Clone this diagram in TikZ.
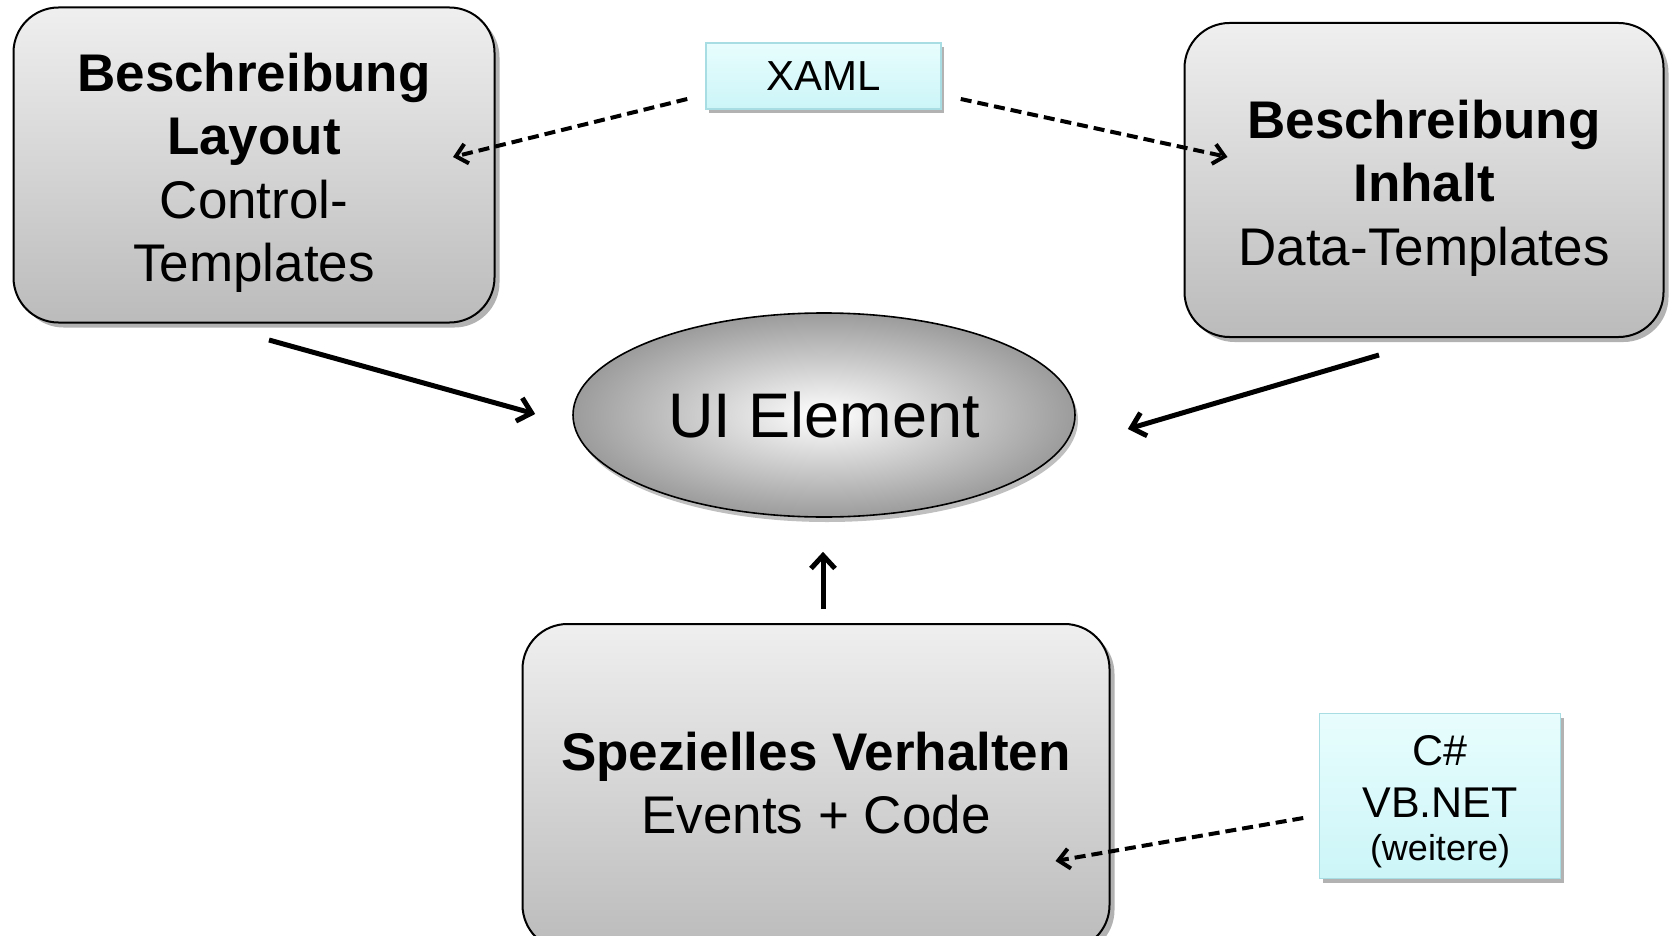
\documentclass[tikz,border=0pt]{standalone}
\usepackage{fontspec}
\setmainfont{Liberation Sans}
\usetikzlibrary{arrows.meta,shadows,calc,shapes.geometric}
\definecolor{boxtop}{HTML}{EFEFEF}
\definecolor{boxbot}{HTML}{BBBBBB}
\definecolor{cytop}{HTML}{E8FDFD}
\definecolor{cybot}{HTML}{CCF5F8}
\definecolor{cyborder}{HTML}{A8DDE4}
\begin{document}
\begin{tikzpicture}[x=1pt,y=-1pt,
  greybox/.style={draw=black, line width=2pt, rounded corners=45pt,
    top color=boxtop, bottom color=boxbot,
    drop shadow={shadow xshift=5pt,shadow yshift=-5pt,opacity=0.3,fill=black},
    inner sep=0pt},
  cybox/.style={draw=cyborder, line width=1.5pt, top color=cytop, bottom color=cybot,
    drop shadow={shadow xshift=3pt,shadow yshift=-4pt,opacity=0.3,fill=black},
    align=center, inner sep=0pt},
  plaintext/.style={align=center, inner sep=0pt, font=\fontsize{53}{63.5}\selectfont},
  solidarrow/.style={line width=5pt, -{Straight Barb[length=13pt,width=24pt]}},
  dasharrow/.style={line width=4pt, dash pattern=on 11pt off 6pt,
    -{Straight Barb[length=11pt,width=20pt]}},
]
\useasboundingbox (0,0) rectangle (1672,936);
\clip (0,0) rectangle (1672,936);

\node[greybox, minimum width=481pt, minimum height=315pt] (lbox) at (254,165) {};
\node[plaintext] (ltext) at (254,173)
  {\textbf{Beschreibung}\\\textbf{Layout}\\Control-\\Templates};
\node[greybox, minimum width=479pt, minimum height=314pt] (rbox) at (1424,180) {};
\node[plaintext] (rtext) at (1424,188)
  {\textbf{Beschreibung}\\\textbf{Inhalt}\\Data-Templates};
\node[greybox, minimum width=587pt, minimum height=326pt] (bbox) at (816,787) {};
\node[plaintext] (bbtext) at (816,783)
  {\textbf{Spezielles Verhalten}\\Events + Code};

\node[ellipse, draw=black, line width=1.6pt, minimum width=502pt, minimum height=204pt,
  inner color=white, outer color=gray!78,
  drop shadow={shadow xshift=3pt,shadow yshift=-5pt,opacity=0.25,fill=black},
  font=\fontsize{63}{75}\selectfont] (ui) at (824,415) {UI Element};

\node[cybox, minimum width=235pt, minimum height=66pt, font=\fontsize{42}{50}\selectfont]
  (xaml) at (823.5,76) {XAML};
\node[cybox, minimum width=241pt, minimum height=165pt] (cs) at (1440,796) {};
\node[align=center, inner sep=0pt, font=\fontsize{43}{52}\selectfont] (cstext) at (1440,802)
  {C\#\\VB.NET\\[-9pt]{\fontsize{36}{40}\selectfont (weitere)}};

\draw[solidarrow] ($(lbox.south)+(15,16.5)$) -- ($(ui.west)+(-37,-1)$);
\draw[solidarrow] ($(rbox.south)+(-45,17)$) -- ($(ui.east)+(52,14)$);
\draw[solidarrow] ($(bbox.north)+(7,-14)$) -- ($(ui.south)+(-1,34)$);

\draw[dasharrow] ($(xaml.west)+(-18,23)$) -- ($(lbox.east)+(-42.5,-8)$);
\draw[dasharrow] ($(xaml.east)+(19,23)$) -- ($(rbox.west)+(44,-23)$);
\draw[dasharrow] ($(cs.west)+(-15.5,22)$) -- ($(bbox.east)+(-55,74)$);
\end{tikzpicture}
\end{document}
